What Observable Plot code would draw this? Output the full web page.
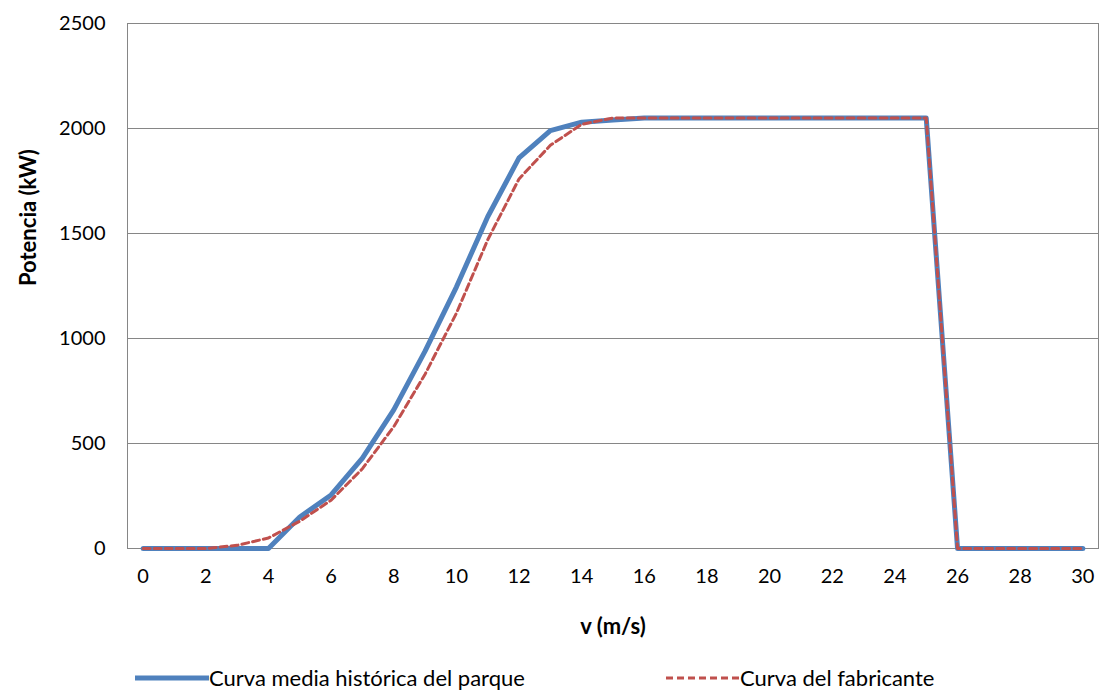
<!DOCTYPE html>
<html><head><meta charset="utf-8">
<script src="https://cdn.jsdelivr.net/npm/d3@7"></script>
<script src="https://cdn.jsdelivr.net/npm/@observablehq/plot@0.6"></script>
<style>
body{margin:0;background:#fff;font-family:Lato,sans-serif;}
#legend{position:absolute;top:664px;left:0;width:1102px;font-size:22px;color:#000;}
.it{position:absolute;top:0;display:flex;align-items:center;}
</style></head><body>
<div id="chart"></div>
<div id="legend">
 <div class="it" style="left:135px"><svg width="74" height="10"><line x1="0" y1="5" x2="74" y2="5" stroke="#4F81BD" stroke-width="5"/></svg><span>Curva media histórica del parque</span></div>
 <div class="it" style="left:666px"><svg width="74" height="10"><line x1="0" y1="5" x2="74" y2="5" stroke="#C0504D" stroke-width="3" stroke-dasharray="7,4"/></svg><span>Curva del fabricante</span></div>
</div>
<script>
const speeds = d3.range(0, 31);
const parque = [0,0,0,0,0,150,255,430,660,940,1245,1580,1860,1990,2030,2040,2050,2050,2050,2050,2050,2050,2050,2050,2050,2050,0,0,0,0,0];
const fabricante = [0,0,0,15,50,130,230,380,580,830,1120,1470,1760,1920,2020,2050,2050,2050,2050,2050,2050,2050,2050,2050,2050,2050,0,0,0,0,0];
const xTicks = d3.range(0, 31, 2);
const yTicks = [0,500,1000,1500,2000,2500];
const dP = speeds.map((v,i)=>({v, p:parque[i]}));
const dF = speeds.map((v,i)=>({v, p:fabricante[i]}));
const chart = Plot.plot({
  width:1102, height:655, marginLeft:127, marginRight:4, marginTop:23, marginBottom:107,
  style:{fontFamily:"Lato, sans-serif", fontSize:"20px", color:"#000"},
  x:{domain:[-0.5,30.5], label:null},
  y:{domain:[0,2500], label:null},
  marks:[
    Plot.gridY(yTicks,{stroke:"#868686", strokeOpacity:1}),
    Plot.frame({stroke:"#868686"}),
    Plot.line(dP,{x:"v", y:"p", stroke:"#4F81BD", strokeWidth:5}),
    Plot.line(dF,{x:"v", y:"p", stroke:"#C0504D", strokeWidth:3, strokeDasharray:"7,4"}),
    Plot.axisX({ticks:xTicks, tickSize:0, tickPadding:20, label:null, tickFormat:d=>String(d)}),
    Plot.axisY({ticks:yTicks, tickSize:0, tickPadding:22, label:null, tickFormat:d=>String(d)}),
    Plot.text(["v (m/s)"],{frameAnchor:"bottom", dy:85, fontWeight:"bold", fontSize:22}),
    Plot.text(["Potencia (kW)"],{frameAnchor:"left", dx:-99, rotate:-90, fontWeight:"bold", fontSize:22})
  ]
});
document.getElementById("chart").append(chart);
</script></body></html>
